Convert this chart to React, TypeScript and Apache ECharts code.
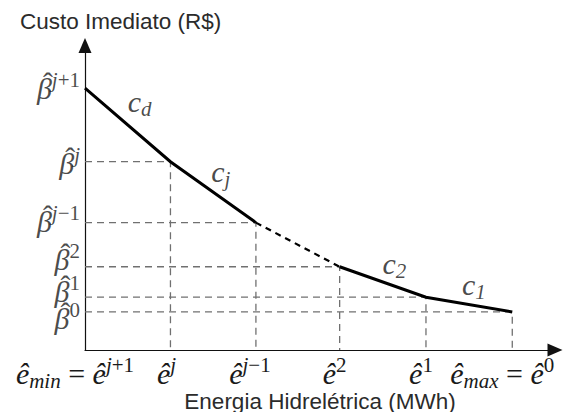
import React, { useEffect, useRef } from "react";
import * as echarts from "echarts";

// Breakpoints of the piecewise-linear immediate cost function
const energy = [0, 1.0, 2.0, 2.98, 3.99, 5.0]; // e^{j+1}, e^j, e^{j-1}, e^2, e^1, e^0
const cost = [25.8, 18.55, 12.55, 8.2, 5.2, 3.75]; // beta^{j+1}, beta^j, beta^{j-1}, beta^2, beta^1, beta^0

// Tick labels (rich text)
const xTickLabels = [
  "{b|ê}{sub|min}{n| = }{b|ê}{supi|j}{sup|+1}{w20| }",
  "{b|ê}{supi|j}{w8| }",
  "{b|ê}{supi|j}{sup|−1}{w12| }",
  "{b|ê}{sup|2}{w10| }",
  "{b|ê}{sup|1}{w10| }",
  "{b|ê}{sub|max}{n| = }{b|ê}{sup|0}{w20| }",
];
// β tick labels: [italic superscript part, upright superscript part]
const yTickSup = [
  ["j", "+1"],
  ["j", ""],
  ["j", "−1"],
  ["", "2"],
  ["", "1"],
  ["", "0"],
];
const yLabelRaise = [1, 0, 3, 9, 7, -5]; // vertical nudge in px (positive = up)

// Segment labels
const segLabels = ["{b|c}{subi|d}", "{b|c}{subi|j}", "{b|c}{sub|2}", "{b|c}{sub|1}"];
const segLabelPos = [
  [0.64, 24.5],
  [1.59, 17.6],
  [3.62, 8.5],
  [4.55, 6.5],
];

const xTitle = "Energia Hidrelétrica (MWh)";
const yTitle = "Custo Imediato (R$)";

const MATH = "Liberation Serif";
const SANS = "Liberation Sans";
const INK = "#1a1a1a";
const BASE = 30;
const SMALL = 21;
const SUP_PAD = 17;
const SUB_PAD = 15;

const baseRich: Record<string, any> = {
  b: { fontFamily: MATH, fontStyle: "italic", fontSize: BASE, color: INK, verticalAlign: "middle" },
  n: { fontFamily: MATH, fontSize: BASE, color: INK, verticalAlign: "middle" },
  supi: { fontFamily: MATH, fontStyle: "italic", fontSize: SMALL, color: INK, padding: [0, 0, SUP_PAD, 0], verticalAlign: "middle" },
  sup: { fontFamily: MATH, fontSize: SMALL, color: INK, padding: [0, 0, SUP_PAD, 0], verticalAlign: "middle" },
  sub: { fontFamily: MATH, fontStyle: "italic", fontSize: SMALL, color: INK, padding: [SUB_PAD, 0, 0, 0], verticalAlign: "middle" },
  subi: { fontFamily: MATH, fontStyle: "italic", fontSize: SMALL, color: INK, padding: [SUB_PAD, 0, 0, 0], verticalAlign: "middle" },
  w8: { width: 8, fontSize: 10 },
  w10: { width: 10, fontSize: 10 },
  w12: { width: 12, fontSize: 10 },
  w20: { width: 20, fontSize: 10 },
};

const Y_LINE = 9;
const HAT_LINE = 3;

function vpad(up: number, extraBottom = 0): number[] {
  // shift a token up by `up` px (negative = down) without changing the line box
  const b = extraBottom + Math.max(0, 2 * up);
  const t = Math.max(0, -2 * up);
  return [t, 0, b, 0];
}

export default function App() {
  const ref = useRef<HTMLDivElement>(null);

  useEffect(() => {
    if (!ref.current) return;
    const chart = echarts.init(ref.current, null, { renderer: "svg" });

    const yRich: Record<string, any> = {};
    const yLabels = yTickSup.map(([si, su], i) => {
      const r = yLabelRaise[i];
      yRich["h" + i] = {
        fontFamily: MATH,
        fontSize: BASE,
        color: INK,
        width: 0,
        align: "left",
        lineHeight: HAT_LINE,
        verticalAlign: "middle",
        padding: vpad(r),
      };
      yRich["b" + i] = { ...baseRich.b, lineHeight: Y_LINE, padding: vpad(r) };
      yRich["si" + i] = { ...baseRich.supi, lineHeight: Y_LINE, padding: vpad(r, SUP_PAD) };
      yRich["su" + i] = { ...baseRich.sup, lineHeight: Y_LINE, padding: vpad(r, SUP_PAD) };
      let s = "{h" + i + "|\u2009\u02c6}\n{b" + i + "|β}";
      if (si) s += "{si" + i + "|" + si + "}";
      if (su) s += "{su" + i + "|" + su + "}";
      return s;
    });

    const dashedGuides = energy.slice(1).map((e, k) => ({
      coords: [
        [0, cost[k + 1]],
        [e, cost[k + 1]],
        [e, 0],
      ],
    }));

    chart.setOption({
      animation: false,
      backgroundColor: "#ffffff",
      title: {
        text: yTitle,
        left: 20,
        top: 10,
        padding: 0,
        textStyle: { fontFamily: SANS, fontSize: 22.5, fontWeight: "normal", color: "#2b2b2b" },
      },
      grid: {
        left: 85,
        right: 8,
        top: 45.5,
        bottom: 62,
        containLabel: false,
        outerBoundsMode: "none",
      },
      xAxis: {
        type: "value",
        min: 0,
        max: 5.5,
        name: xTitle,
        nameLocation: "middle",
        nameGap: 41,
        nameMoveOverlap: false,
        nameTextStyle: { fontFamily: SANS, fontSize: 22.5, lineHeight: 20, color: "#2b2b2b" },
        axisLine: {
          show: true,
          onZero: false,
          symbol: ["none", "triangle"],
          symbolSize: [13, 15],
          lineStyle: { color: "#111", width: 1.2 },
        },
        axisTick: { show: false },
        splitLine: { show: false },
        axisLabel: {
          customValues: energy,
          margin: 4,
          showMinLabel: true,
          showMaxLabel: true,
          formatter: (v: number) => {
            const i = energy.indexOf(v);
            return i >= 0 ? xTickLabels[i] : "";
          },
          rich: baseRich,
          hideOverlap: false,
        },
      },
      yAxis: {
        type: "value",
        min: 0,
        max: 30,
        axisLine: {
          show: true,
          onZero: false,
          symbol: ["none", "triangle"],
          symbolSize: [13, 15],
          lineStyle: { color: "#111", width: 1.2 },
        },
        axisTick: { show: false },
        splitLine: { show: false },
        axisLabel: { show: false },
      },
      series: [
        {
          type: "lines",
          coordinateSystem: "cartesian2d",
          polyline: true,
          silent: true,
          z: 1,
          lineStyle: { color: "#707070", width: 1.3, type: [7, 5], opacity: 1 },
          data: dashedGuides,
        },
        {
          type: "line",
          z: 3,
          symbol: "none",
          lineStyle: { color: "#000", width: 3, cap: "butt", join: "miter" },
          data: energy.slice(0, 3).map((e, i) => [e, cost[i]]),
        },
        {
          type: "line",
          z: 3,
          symbol: "none",
          lineStyle: { color: "#000", width: 2.2, type: [6, 5], cap: "butt" },
          data: energy.slice(2, 4).map((e, i) => [e, cost[i + 2]]),
        },
        {
          type: "line",
          z: 3,
          symbol: "none",
          lineStyle: { color: "#000", width: 3, cap: "butt", join: "miter" },
          data: energy.slice(3).map((e, i) => [e, cost[i + 3]]),
        },
        {
          // β tick labels at the cost levels on the vertical axis
          type: "scatter",
          symbolSize: 0,
          silent: true,
          z: 4,
          label: {
            show: true,
            position: "left",
            distance: 5,
            formatter: (p: any) => yLabels[p.dataIndex],
            rich: yRich,
          },
          labelLayout: { hideOverlap: false },
          data: cost.map((c) => [energy[0], c]),
        },
        {
          type: "scatter",
          symbolSize: 0,
          silent: true,
          z: 4,
          label: {
            show: true,
            position: "inside",
            formatter: (p: any) => segLabels[p.dataIndex],
            rich: baseRich,
          },
          data: segLabelPos,
        },
      ],
    });

    return () => chart.dispose();
  }, []);

  return (
    <div
      ref={ref}
      style={{ position: "fixed", left: 0, top: 0, width: 563, height: 412, background: "#fff" }}
    />
  );
}
